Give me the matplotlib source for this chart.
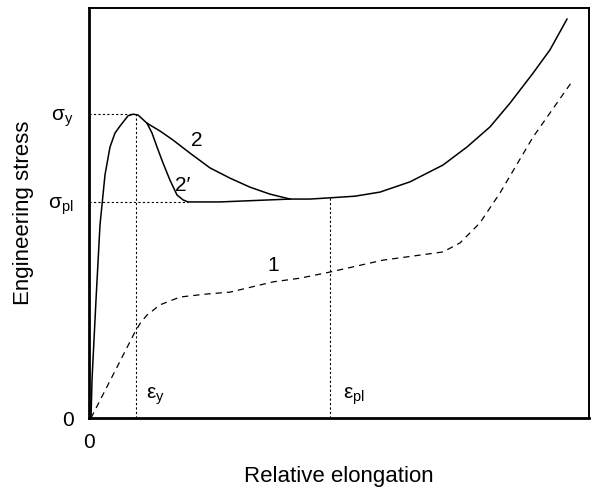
import matplotlib
matplotlib.use("Agg")
import matplotlib.pyplot as plt

plt.rcParams['font.family'] = ['Liberation Sans', 'DejaVu Sans']
plt.rcParams['mathtext.fontset'] = 'custom'
plt.rcParams['mathtext.rm'] = 'Liberation Sans'
plt.rcParams['mathtext.it'] = 'Liberation Sans'

# curve 2: yield peak, drop to plateau, then strain hardening
x2 = [0.4, 0.6, 1.4, 2.2, 3.2, 4.2, 5.2, 6.2, 7.8, 8.8, 9.8, 11.6, 14.2, 16.8,
      20.2, 24.2, 28.2, 32.2, 36.2, 40.2, 44.2, 48.2, 53.2, 58.2, 64.2, 70.8,
      75.6, 80.2, 84.2, 88.8, 92.2, 95.6]
y2 = [0, 9.3, 28.8, 47.1, 59.3, 66.1, 69.5, 71.2, 73.7, 74.1, 73.9, 71.9, 70.0,
      67.8, 64.6, 61.0, 58.5, 56.3, 54.6, 53.4, 53.4, 53.7, 54.1, 55.1, 57.6,
      61.7, 66.1, 71.0, 76.8, 84.1, 89.8, 97.3]

# curve 2': faster drop to the plateau
x2b = [11.6, 12.6, 13.6, 14.8, 16.2, 17.6, 18.8, 19.8, 26.2, 32.2, 40.2]
y2b = [71.9, 69.5, 66.1, 62.2, 58.0, 54.4, 53.2, 52.7, 52.7, 53.0, 53.4]

# curve 1: no yield drop
x1 = [0.4, 4.8, 9.2, 10.4, 11.6, 14.2, 18.2, 23.2, 28.2, 36.8, 42.2, 48.2,
      58.8, 70.8, 74.2, 78.2, 82.2, 88.8, 96.8]
y1 = [0, 10.5, 21.0, 23.4, 25.1, 27.6, 29.5, 30.2, 30.7, 33.2, 34.1, 35.6,
      38.5, 40.5, 42.7, 47.6, 54.9, 68.5, 82.4]

sigma_y, sigma_pl = 74.1, 52.7
eps_y, eps_pl = 9.4, 48.2

fig = plt.figure(figsize=(5.95, 4.91), dpi=100)
ax = fig.add_axes([89 / 595, 73 / 491, 500 / 595, 410 / 491])
ax.set_xlim(0, 100)
ax.set_ylim(0, 100)

ax.plot(x2, y2, color='black', lw=1.1)
ax.plot(x2b, y2b, color='black', lw=1.1)
ax.plot(x1, y1, color='black', lw=0.9, dashes=(5, 4))

dot = dict(color='black', lw=0.8, dashes=(2, 2))
ax.plot([0, 8.8], [sigma_y, sigma_y], **dot)
ax.plot([eps_y, eps_y], [0, sigma_y], **dot)
ax.plot([0, 19.8], [sigma_pl, sigma_pl], **dot)
ax.plot([eps_pl, eps_pl], [0, 53.7], **dot)

ax.text(21.6, 67.8, '2', fontsize=15, ha='center', va='center')
ax.text(18.8, 56.6, "2\u2032", fontsize=15, ha='center', va='center')
ax.text(36.8, 37.1, '1', fontsize=15, ha='center', va='center')
ax.text(11.4, 5.4, r'$\mathrm{\varepsilon}_\mathrm{y}$', fontsize=15, ha='left', va='center')
ax.text(50.8, 5.4, r'$\mathrm{\varepsilon}_\mathrm{pl}$', fontsize=15, ha='left', va='center')

ax.set_yticks([0, sigma_pl, sigma_y])
ax.set_yticklabels(['0', r'$\mathrm{\sigma}_\mathrm{pl}$', r'$\mathrm{\sigma}_\mathrm{y}$'])
ax.set_xticks([0])
ax.set_xticklabels(['0'])
ax.tick_params(length=0, labelsize=15, pad=11)

ax.set_xlabel('Relative elongation', fontsize=16, labelpad=10)
ax.set_ylabel('Engineering stress', fontsize=16, labelpad=10)

for side in ['left', 'bottom']:
    ax.spines[side].set_linewidth(2.0)
for side in ['top', 'right']:
    ax.spines[side].set_linewidth(1.4)

fig.savefig('out.png', dpi=100)
